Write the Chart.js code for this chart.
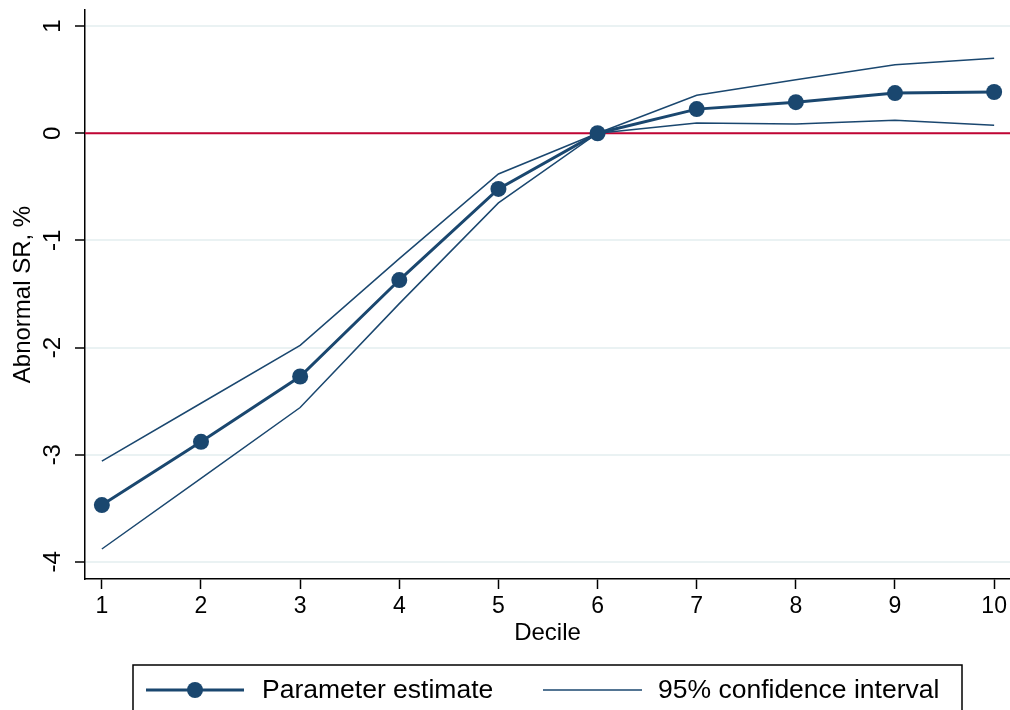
<!DOCTYPE html>
<html>
<head>
<meta charset="utf-8">
<script src="https://cdn.jsdelivr.net/npm/chart.js@4.4.0/dist/chart.umd.min.js"></script>
<style>
  html, body { margin: 0; padding: 0; background: #fff; }
  #wrap { width: 1010px; height: 710px; }
</style>
</head>
<body>
<div id="wrap"><canvas id="myChart" width="1010" height="710"></canvas></div>
<script>
const deciles = [1, 2, 3, 4, 5, 6, 7, 8, 9, 10];
const estimate = [-3.47, -2.88, -2.27, -1.37, -0.52, 0, 0.225, 0.29, 0.375, 0.385];
const upperCI = [-3.06, -2.52, -1.98, -1.17, -0.38, 0, 0.355, 0.5, 0.64, 0.7];
const lowerCI = [-3.88, -3.22, -2.56, -1.59, -0.65, 0, 0.095, 0.085, 0.12, 0.075];
const yTicks = [-4, -3, -2, -1, 0, 1];
const xTicks = deciles;

const NAVY = "#1a476f";
const RED = "#c10534";
const FONT = "'Liberation Sans', Arial, sans-serif";

const toPoints = (vals) => deciles.map((d, i) => ({ x: d, y: vals[i] }));

// zero reference line + rotated y labels + legend box
const extras = {
  id: "extras",
  beforeDatasetsDraw(chart) {
    const { ctx, chartArea, scales } = chart;
    const y0 = scales.y.getPixelForValue(0);
    ctx.save();
    ctx.strokeStyle = RED;
    ctx.lineWidth = 2;
    ctx.beginPath();
    ctx.moveTo(chartArea.left, y0);
    ctx.lineTo(chartArea.right, y0);
    ctx.stroke();
    ctx.restore();
  },
  afterDraw(chart) {
    const { ctx, scales } = chart;
    ctx.save();
    ctx.fillStyle = "#000";
    ctx.font = "24px " + FONT;
    ctx.textAlign = "center";
    ctx.textBaseline = "middle";
    for (const t of yTicks) {
      const py = scales.y.getPixelForValue(t);
      ctx.save();
      ctx.translate(53, py);
      ctx.rotate(-Math.PI / 2);
      ctx.fillText(String(t), 0, 0);
      ctx.restore();
    }
    ctx.restore();

    // legend
    const top = 665, cy = 690;
    ctx.save();
    ctx.strokeStyle = "#000";
    ctx.lineWidth = 1.5;
    ctx.strokeRect(133, top, 829, 80);

    ctx.strokeStyle = NAVY;
    ctx.lineWidth = 3;
    ctx.beginPath();
    ctx.moveTo(146, cy);
    ctx.lineTo(244, cy);
    ctx.stroke();
    ctx.fillStyle = NAVY;
    ctx.beginPath();
    ctx.arc(195, cy, 8, 0, Math.PI * 2);
    ctx.fill();

    ctx.lineWidth = 1.5;
    ctx.beginPath();
    ctx.moveTo(543, cy);
    ctx.lineTo(642, cy);
    ctx.stroke();

    ctx.fillStyle = "#000";
    ctx.font = "26.5px " + FONT;
    ctx.textAlign = "left";
    ctx.textBaseline = "middle";
    ctx.fillText(chart.data.datasets[0].label, 262, cy + 1);
    ctx.fillText(chart.data.datasets[1].label, 658, cy + 1);
    ctx.restore();
  },
};

const config = {
  type: "line",
  data: {
    datasets: [
      {
        label: "Parameter estimate",
        data: toPoints(estimate),
        borderColor: NAVY,
        backgroundColor: NAVY,
        borderWidth: 3,
        pointRadius: 8,
        pointBorderWidth: 0,
        pointBackgroundColor: NAVY,
        tension: 0,
        order: 1,
      },
      {
        label: "95% confidence interval",
        data: toPoints(upperCI),
        borderColor: NAVY,
        borderWidth: 1.5,
        pointRadius: 0,
        tension: 0,
        order: 2,
      },
      {
        label: "lower",
        data: toPoints(lowerCI),
        borderColor: NAVY,
        borderWidth: 1.5,
        pointRadius: 0,
        tension: 0,
        order: 2,
      },
    ],
  },
  options: {
    responsive: false,
    animation: false,
    devicePixelRatio: 1,
    layout: { autoPadding: false, padding: { top: 10, right: 0, left: 0, bottom: 62 } },
    plugins: {
      legend: { display: false },
      tooltip: { enabled: false },
    },
    scales: {
      x: {
        type: "linear",
        min: 0.83,
        max: 10.16,
        afterBuildTicks: (scale) => {
          scale.ticks = xTicks.map((v) => ({ value: v }));
        },
        afterFit: (scale) => {
          scale.height = 69;
          scale.paddingLeft = 0;
          scale.paddingRight = 0;
        },
        grid: {
          drawOnChartArea: false,
          tickLength: 10,
          tickColor: "#000",
          tickWidth: 1.5,
        },
        border: { display: true, color: "#000", width: 1.5 },
        ticks: {
          color: "#000",
          font: { family: FONT, size: 23 },
          padding: 4,
          maxRotation: 0,
        },
        title: {
          display: true,
          text: "Decile",
          color: "#000",
          font: { family: FONT, size: 24 },
          padding: { top: 2, bottom: 0 },
        },
      },
      y: {
        type: "linear",
        min: -4.16,
        max: 1.15,
        afterBuildTicks: (scale) => {
          scale.ticks = yTicks.map((v) => ({ value: v }));
        },
        afterFit: (scale) => {
          scale.width = 85;
          scale.paddingTop = 0;
          scale.paddingBottom = 0;
        },
        grid: {
          color: "#eaf2f3",
          lineWidth: 2,
          tickLength: 10,
          tickColor: "#000",
          tickWidth: 1.5,
        },
        border: { display: true, color: "#000", width: 1.5 },
        ticks: {
          color: "rgba(0,0,0,0)",
          font: { family: FONT, size: 2 },
        },
        title: {
          display: true,
          text: "Abnormal SR, %",
          color: "#000",
          font: { family: FONT, size: 24 },
          padding: { top: 9, bottom: 0 },
        },
      },
    },
  },
  plugins: [extras],
};

let myChart = document.getElementById("myChart");
let myChart2D = myChart.getContext("2d");
let new_chart = new Chart(myChart2D, config);
</script>
</body>
</html>
